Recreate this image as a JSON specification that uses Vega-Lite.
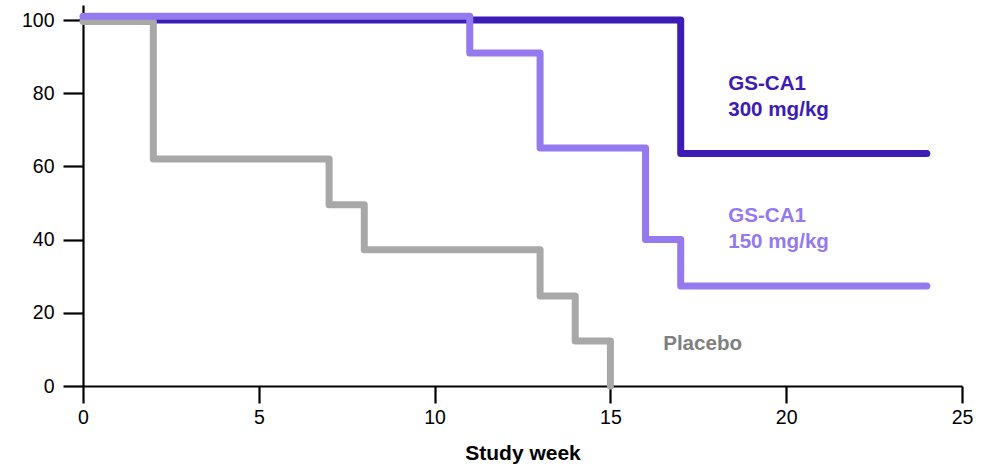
{
  "$schema": "https://vega.github.io/schema/vega-lite/v6.json",
  "width": 879,
  "height": 381,
  "autosize": "none",
  "padding": {"left": 83, "top": 5, "right": 19, "bottom": 84},
  "background": "white",
  "config": {
    "view": {"stroke": null},
    "font": "Liberation Sans",
    "axis": {
      "domainColor": "black", "domainWidth": 2.2, "tickColor": "black", "tickWidth": 2.2,
      "labelFont": "Liberation Sans", "labelFontSize": 19.5, "labelColor": "#000",
      "titleFont": "Liberation Sans", "titleFontSize": 21, "titleFontWeight": "bold", "titleColor": "#000",
      "grid": false, "labelFlush": false, "labelOverlap": false
    }
  },
  "datasets": {
    "curves": [
      {"group": "300 mg/kg", "week": 0, "pct": 100},
      {"group": "300 mg/kg", "week": 17, "pct": 63.5},
      {"group": "300 mg/kg", "week": 24, "pct": 63.5},
      {"group": "Placebo", "week": 0, "pct": 99.6},
      {"group": "Placebo", "week": 2, "pct": 62},
      {"group": "Placebo", "week": 7, "pct": 49.5},
      {"group": "Placebo", "week": 8, "pct": 37.2},
      {"group": "Placebo", "week": 13, "pct": 24.6},
      {"group": "Placebo", "week": 14, "pct": 12.3},
      {"group": "Placebo", "week": 15, "pct": 0},
      {"group": "150 mg/kg", "week": 0, "pct": 101},
      {"group": "150 mg/kg", "week": 11, "pct": 91},
      {"group": "150 mg/kg", "week": 13, "pct": 65},
      {"group": "150 mg/kg", "week": 16, "pct": 40},
      {"group": "150 mg/kg", "week": 17, "pct": 27.3},
      {"group": "150 mg/kg", "week": 24, "pct": 27.3}
    ],
    "labels": [
      {"group": "300 mg/kg", "text": "GS-CA1\n300 mg/kg", "week": 18.35, "pct": 80.9},
      {"group": "150 mg/kg", "text": "GS-CA1\n150 mg/kg", "week": 18.35, "pct": 44.8},
      {"group": "Placebo", "text": "Placebo", "week": 16.5, "pct": 9.8}
    ]
  },
  "layer": [
    {
      "data": {"name": "curves"},
      "transform": [{"filter": "datum.group === '300 mg/kg'"}],
      "mark": {"type": "line", "interpolate": "step-after", "strokeWidth": 7, "strokeCap": "round", "strokeJoin": "round", "color": "#3d1cb6"},
      "encoding": {
        "x": {"field": "week", "type": "quantitative", "scale": {"domain": [0, 25], "nice": false},
              "axis": {"values": [0, 5, 10, 15, 20, 25], "title": "Study week", "tickSize": 17, "labelPadding": 5, "titlePadding": 16}},
        "y": {"field": "pct", "type": "quantitative", "scale": {"domain": [0, 104.1], "nice": false},
              "axis": {"values": [0, 20, 40, 60, 80, 100], "title": null, "tickSize": 20, "labelPadding": 9}}
      }
    },
    {
      "data": {"name": "curves"},
      "transform": [{"filter": "datum.group === 'Placebo'"}],
      "mark": {"type": "line", "interpolate": "step-after", "strokeWidth": 7, "strokeCap": "round", "strokeJoin": "round", "color": "#a8a8a8"},
      "encoding": {
        "x": {"field": "week", "type": "quantitative"},
        "y": {"field": "pct", "type": "quantitative"}
      }
    },
    {
      "data": {"name": "curves"},
      "transform": [{"filter": "datum.group === '150 mg/kg'"}],
      "mark": {"type": "line", "interpolate": "step-after", "strokeWidth": 7, "strokeCap": "round", "strokeJoin": "round", "color": "#9579ef"},
      "encoding": {
        "x": {"field": "week", "type": "quantitative"},
        "y": {"field": "pct", "type": "quantitative"}
      }
    },
    {
      "data": {"name": "labels"},
      "mark": {"type": "text", "align": "left", "baseline": "alphabetic", "fontSize": 20.6, "fontWeight": "bold", "lineBreak": "\n", "lineHeight": 26, "font": "Liberation Sans"},
      "encoding": {
        "x": {"field": "week", "type": "quantitative"},
        "y": {"field": "pct", "type": "quantitative"},
        "text": {"field": "text"},
        "color": {"field": "group", "type": "nominal",
                  "scale": {"domain": ["300 mg/kg", "150 mg/kg", "Placebo"], "range": ["#3d1cb6", "#9579ef", "#7f7f7f"]},
                  "legend": null}
      }
    }
  ]
}
